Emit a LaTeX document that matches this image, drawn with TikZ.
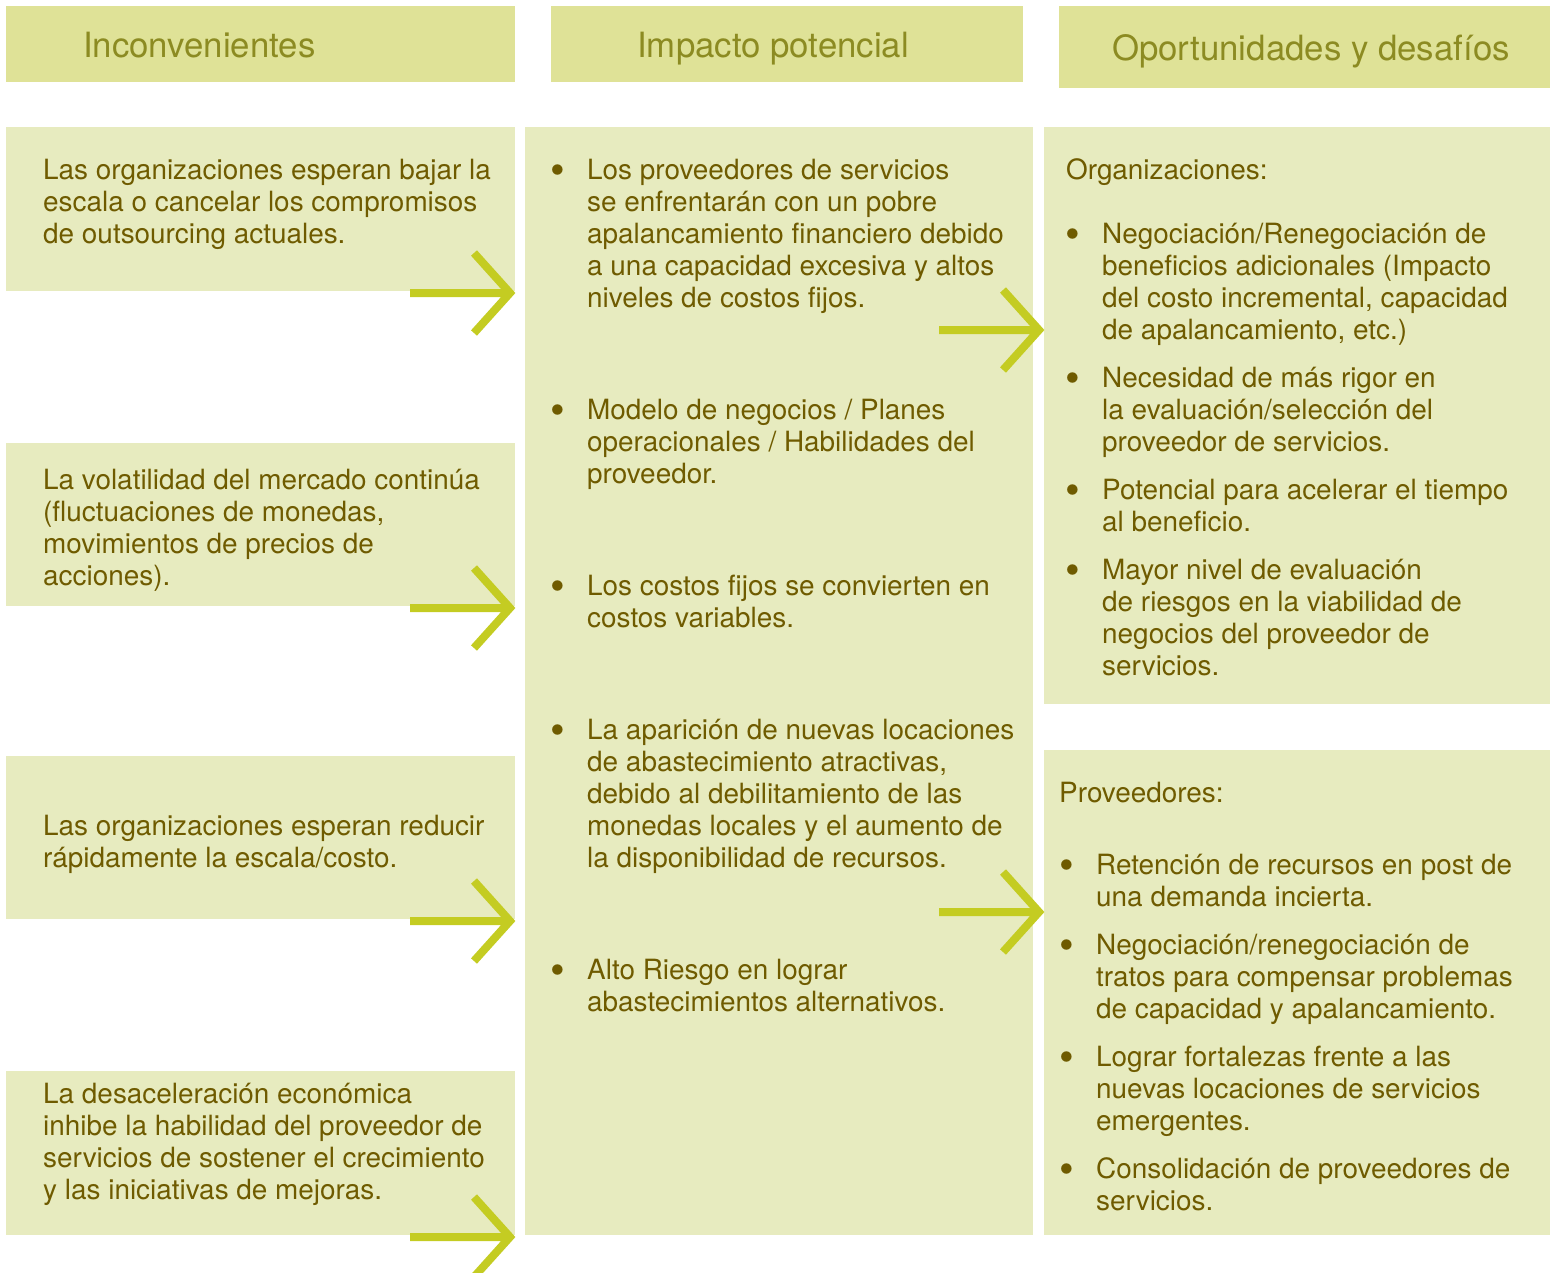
\documentclass[tikz,border=0pt]{standalone}
\usepackage{fontspec}
\setmainfont{TeX Gyre Heros}

\definecolor{cabcol}{HTML}{DFE297}
\definecolor{celdacol}{HTML}{E7EBBF}
\definecolor{textocol}{HTML}{6F5B00}
\definecolor{titcol}{HTML}{8C8B22}
\definecolor{flechacol}{HTML}{C4CC22}

% lines of a cell, first baseline on the node's base
\newcommand\lineas[1]{\begin{tabular}[t]{@{}l@{}}#1\end{tabular}}
\newcommand\punto{\llap{\makebox[0pt]{\raisebox{-4.5pt}{\fontsize{42}{32}\selectfont\textbullet}}\hspace{29pt}}}

\begin{document}
\begin{tikzpicture}[x=1pt,y=-1pt,
    cab/.style={fill=cabcol,inner sep=0pt,outer sep=0pt,anchor=north west},
    celda/.style={fill=celdacol,inner sep=0pt,outer sep=0pt,anchor=north west},
    titulo/.style={inner sep=0pt,anchor=base west,text=titcol,font=\fontsize{34.8}{40}\selectfont},
    txt/.style={inner sep=0pt,anchor=base west,text=textocol,font=\fontsize{27.9}{32}\selectfont},
    flecha/.style={draw=flechacol,line width=8pt,miter limit=10}]
  \useasboundingbox (0,0) rectangle (1557,1272);

  % column heads
  \node[cab,minimum width=509pt,minimum height=76pt] (cab1) at (6,6) {};
  \node[cab,minimum width=472pt,minimum height=76pt] (cab2) at (551,6) {};
  \node[cab,minimum width=491pt,minimum height=82pt] (cab3) at (1059,6) {};
  \node[titulo] (tit1) at (83,57) {Inconvenientes};
  \node[titulo] (tit2) at (637,57) {Impacto potencial};
  \node[titulo] (tit3) at (1112,60) {Oportunidades y desafíos};

  % left column
  \node[celda,minimum width=509pt,minimum height=164pt] (inc1) at (6,127) {};
  \node[celda,minimum width=509pt,minimum height=163pt] (inc2) at (6,443) {};
  \node[celda,minimum width=509pt,minimum height=163pt] (inc3) at (6,756) {};
  \node[celda,minimum width=509pt,minimum height=164pt] (inc4) at (6,1071) {};
  \node[txt] (incA) at (43,179.5) {\lineas{Las organizaciones esperan bajar la\\
    escala o cancelar los compromisos\\ de outsourcing actuales.}};
  \node[txt] (incB) at (43,489.5) {\lineas{La volatilidad del mercado continúa\\
    (fluctuaciones de monedas,\\ movimientos de precios de\\ acciones).}};
  \node[txt] (incC) at (43,835.5) {\lineas{Las organizaciones esperan reducir\\
    rápidamente la escala/costo.}};
  \node[txt] (incD) at (43,1103.5) {\lineas{La desaceleración económica\\
    inhibe la habilidad del proveedor de\\ servicios de sostener el crecimiento\\
    y las iniciativas de mejoras.}};

  % middle column
  \node[celda,minimum width=508pt,minimum height=1108pt] (imp) at (525,127) {};
  \node[txt] (impA) at (587,179.5) {\punto\lineas{Los proveedores de servicios\\
    se enfrentarán con un pobre\\ apalancamiento financiero debido\\
    a una capacidad excesiva y altos\\ niveles de costos fijos.}};
  \node[txt] (impB) at (587,419.5) {\punto\lineas{Modelo de negocios / Planes\\
    operacionales / Habilidades del\\ proveedor.}};
  \node[txt] (impC) at (587,595.5) {\punto\lineas{Los costos fijos se convierten en\\
    costos variables.}};
  \node[txt] (impD) at (587,739.5) {\punto\lineas{La aparición de nuevas locaciones\\
    de abastecimiento atractivas,\\ debido al debilitamiento de las\\
    monedas locales y el aumento de\\ la disponibilidad de recursos.}};
  \node[txt] (impE) at (587,979.5) {\punto\lineas{Alto Riesgo en lograr\\
    abastecimientos alternativos.}};

  % right column
  \node[celda,minimum width=506pt,minimum height=577pt] (org) at (1044,127) {};
  \node[celda,minimum width=506pt,minimum height=485pt] (prov) at (1044,750) {};
  \node[txt] (orgT) at (1066,179.5) {Organizaciones:};
  \node[txt] (orgA) at (1102,243.5) {\punto\lineas{Negociación/Renegociación de\\
    beneficios adicionales (Impacto\\ del costo incremental, capacidad\\
    de apalancamiento, etc.)}};
  \node[txt] (orgB) at (1102,387.5) {\punto\lineas{Necesidad de más rigor en\\
    la evaluación/selección del\\ proveedor de servicios.}};
  \node[txt] (orgC) at (1102,499.5) {\punto\lineas{Potencial para acelerar el tiempo\\
    al beneficio.}};
  \node[txt] (orgD) at (1102,579.5) {\punto\lineas{Mayor nivel de evaluación\\
    de riesgos en la viabilidad de\\ negocios del proveedor de\\ servicios.}};
  \node[txt] (provT) at (1059,802.5) {Proveedores:};
  \node[txt] (provA) at (1096,874.5) {\punto\lineas{Retención de recursos en post de\\
    una demanda incierta.}};
  \node[txt] (provB) at (1096,954.5) {\punto\lineas{Negociación/renegociación de\\
    tratos para compensar problemas\\ de capacidad y apalancamiento.}};
  \node[txt] (provC) at (1096,1066.5) {\punto\lineas{Lograr fortalezas frente a las\\
    nuevas locaciones de servicios\\ emergentes.}};
  \node[txt] (provD) at (1096,1178.5) {\punto\lineas{Consolidación de proveedores de\\
    servicios.}};

  % arrows
  \coordinate (org1) at ([yshift=-201pt]org.north west);
  \coordinate (prov1) at ([yshift=-160pt]prov.north west);
  \foreach \t in {inc1.south east,inc2.south east,inc3.south east,inc4.south east,org1,prov1}
    \draw[flecha] ([shift={(-105pt,-2pt)}]\t) -- ([shift={(-5pt,-2pt)}]\t)
      ([shift={(-41pt,38pt)}]\t) -- ([shift={(-5pt,-2pt)}]\t) -- ([shift={(-41pt,-42pt)}]\t);
\end{tikzpicture}
\end{document}
